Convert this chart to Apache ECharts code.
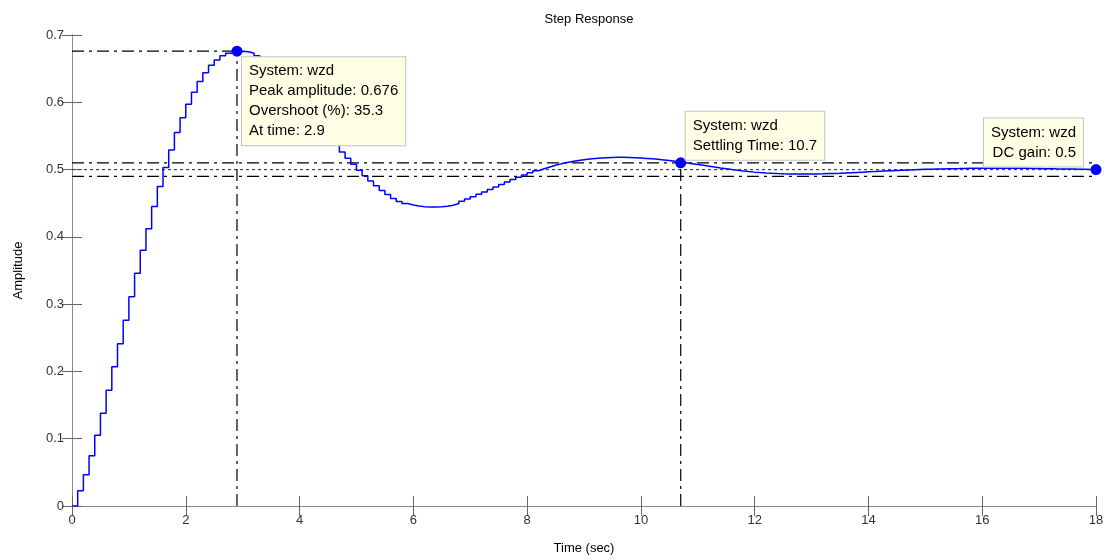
<!DOCTYPE html>
<html lang="en">
<head>
    <meta charset="UTF-8">
    <title>Step Response</title>
    <script src="https://cdn.jsdelivr.net/npm/echarts@6.0.0/dist/echarts.min.js"></script>
    <style>
        html, body { margin: 0; padding: 0; background: #fff; }
        #chart { width: 1111px; height: 560px; }
    </style>
</head>
<body>
    <div id="chart"></div>
<script type="text/javascript">

    // sample time of the discrete step response (sec)
    const sampleTime = 0.1;

    // step response amplitude, one value per sample (t = 0 ... 18 s)
    const amplitude = [
        0, 0.0227, 0.0465, 0.0747, 0.105, 0.138, 0.172, 0.207, 0.241, 0.276,
        0.311, 0.346, 0.380, 0.412, 0.445, 0.475, 0.503, 0.529, 0.555, 0.577,
        0.597, 0.615, 0.631, 0.644, 0.655, 0.663, 0.669, 0.673, 0.675, 0.676,
        0.675, 0.673, 0.669, 0.664, 0.657, 0.650, 0.641, 0.632, 0.622, 0.611,
        0.600, 0.589, 0.578, 0.567, 0.556, 0.545, 0.536, 0.526, 0.517, 0.508,
        0.499, 0.491, 0.483, 0.476, 0.469, 0.463, 0.457, 0.4525, 0.4495, 0.4472,
        0.4458, 0.4449, 0.4445, 0.4445, 0.4448, 0.4455, 0.4470, 0.4495, 0.4530, 0.4563,
        0.4597, 0.4632, 0.4668, 0.4704, 0.4741, 0.4778, 0.4815, 0.4851, 0.4886, 0.4919,
        0.4951, 0.4982, 0.5011, 0.5038, 0.5063, 0.5085, 0.5104, 0.5121, 0.5135, 0.5147,
        0.5157, 0.5165, 0.5171, 0.5176, 0.5179, 0.5182, 0.5182, 0.5180, 0.5176, 0.5171,
        0.5166, 0.5160, 0.5152, 0.5143, 0.5134, 0.5123, 0.5112, 0.5100, 0.5088, 0.5076,
        0.5063, 0.5050, 0.5037, 0.5024, 0.5012, 0.5000, 0.4989, 0.4979, 0.4970, 0.4962,
        0.4955, 0.4949, 0.4944, 0.4940, 0.4937, 0.4935, 0.4934, 0.4933, 0.4933, 0.4934,
        0.4935, 0.4937, 0.4940, 0.4943, 0.4946, 0.4950, 0.4954, 0.4958, 0.4962, 0.4966,
        0.4970, 0.4975, 0.4979, 0.4983, 0.4987, 0.4991, 0.4994, 0.4997, 0.5000, 0.5003,
        0.5006, 0.5008, 0.5010, 0.5012, 0.5014, 0.5015, 0.5017, 0.5018, 0.5019, 0.5020,
        0.5020, 0.5021, 0.5021, 0.5021, 0.5020, 0.5020, 0.5019, 0.5018, 0.5017, 0.5016,
        0.5014, 0.5013, 0.5011, 0.5010, 0.5008, 0.5007, 0.5005, 0.5004, 0.5002, 0.5001,
        0.5000
    ];

    // characteristics shown by the data tips
    const systemName = 'wzd';
    const peakAmp = 0.676;
    const peakTime = 2.9;
    const overshoot = 35.3;
    const settleTime = 10.7;
    const settleAmp = 0.51;
    const dcGain = 0.5;
    const settleBand = 0.02;   // 2% settling band
    const tEnd = 18;

    // axis ticks
    const xTicks = { min: 0, max: 18, step: 2 };
    const yTicks = { min: 0, max: 0.7, step: 0.1 };

    let respData = amplitude.map((v, i) => [+(i * sampleTime).toFixed(1), v]);

    const FONT = 'Liberation Sans, Arial, sans-serif';
    const frameColor = '#8c8c8c';
    const dashDot = [12, 5, 3, 5];

    function refLine(points, type, color) {
        return {
            type: 'line',
            data: points,
            symbol: 'none',
            silent: true,
            z: 1,
            lineStyle: { color: color || '#000', width: 1.2, type: type }
        };
    }

    let chart = echarts.init(document.getElementById('chart'));

    let tipLabel = {
        show: true,
        fontFamily: FONT,
        fontSize: 15,
        lineHeight: 20,
        color: '#000',
        backgroundColor: '#ffffe6',
        borderColor: '#c4c4c4',
        borderWidth: 1,
        padding: [4, 7]
    };

    let option = {
        animation: false,
        backgroundColor: '#fff',
        title: {
            text: 'Step Response',
            left: 584,
            top: 8,
            textAlign: 'center',
            textStyle: { fontFamily: FONT, fontSize: 13, fontWeight: 'normal', color: '#000' }
        },
        grid: { left: 72, top: 35, width: 1024, height: 472 },
        xAxis: [
            {
                type: 'value', min: xTicks.min, max: xTicks.max, interval: xTicks.step,
                name: 'Time (sec)', nameLocation: 'middle', nameGap: 36,
                nameTextStyle: { fontFamily: FONT, fontSize: 13, color: '#000' },
                axisLine: { lineStyle: { color: frameColor } },
                axisTick: { inside: true, length: 10, lineStyle: { color: '#666' } },
                axisLabel: { fontFamily: FONT, fontSize: 13, color: '#333', margin: 8 },
                splitLine: { show: false }
            },
            {
                type: 'value', position: 'top', min: xTicks.min, max: xTicks.max, interval: xTicks.step,
                axisLine: { lineStyle: { color: frameColor } },
                axisTick: { inside: true, length: 10, lineStyle: { color: '#666' } },
                axisLabel: { show: false },
                splitLine: { show: false }
            }
        ],
        yAxis: [
            {
                type: 'value', min: yTicks.min, max: yTicks.max, interval: yTicks.step,
                name: 'Amplitude', nameLocation: 'middle', nameGap: 47, nameRotate: 90,
                nameTextStyle: { fontFamily: FONT, fontSize: 13, color: '#000' },
                axisLine: { lineStyle: { color: frameColor } },
                axisTick: { inside: true, length: 10, lineStyle: { color: '#666' } },
                axisLabel: { fontFamily: FONT, fontSize: 13, color: '#333', margin: 8 },
                splitLine: { show: false }
            },
            {
                type: 'value', position: 'right', min: yTicks.min, max: yTicks.max, interval: yTicks.step,
                axisLine: { lineStyle: { color: frameColor } },
                axisTick: { inside: true, length: 10, lineStyle: { color: '#666' } },
                axisLabel: { show: false },
                splitLine: { show: false }
            }
        ],
        series: [
            // settling band and final value
            refLine([[0, dcGain * (1 + settleBand)], [tEnd, dcGain * (1 + settleBand)]], dashDot),
            refLine([[0, dcGain * (1 - settleBand)], [tEnd, dcGain * (1 - settleBand)]], dashDot),
            refLine([[0, dcGain], [tEnd, dcGain]], [3, 3], '#444'),
            // peak and settling guides
            refLine([[0, peakAmp], [peakTime, peakAmp]], dashDot),
            refLine([[peakTime, 0], [peakTime, peakAmp]], dashDot),
            refLine([[settleTime, 0], [settleTime, settleAmp]], dashDot),
            {
                name: systemName,
                type: 'line',
                step: 'end',
                data: respData,
                showSymbol: false,
                z: 3,
                lineStyle: { color: '#0000ff', width: 1.5 }
            },
            {
                type: 'scatter',
                symbol: 'circle',
                symbolSize: 11,
                zlevel: 1,
                z: 10,
                itemStyle: { color: '#0000ff', opacity: 1 },
                data: [
                    {
                        value: [peakTime, peakAmp],
                        label: Object.assign({}, tipLabel, {
                            position: [10.5, 11.5], align: 'left',
                            formatter: 'System: ' + systemName + '\nPeak amplitude: ' + peakAmp +
                                '\nOvershoot (%): ' + overshoot + '\nAt time: ' + peakTime
                        })
                    },
                    {
                        value: [settleTime, settleAmp],
                        label: Object.assign({}, tipLabel, {
                            position: [10.5, -45.5], align: 'left',
                            formatter: 'System: ' + systemName + '\nSettling Time: ' + settleTime
                        })
                    },
                    {
                        value: [tEnd, dcGain],
                        label: Object.assign({}, tipLabel, {
                            position: [-7.5, -45.5], align: 'right',
                            formatter: 'System: ' + systemName + '\nDC gain: ' + dcGain
                        })
                    }
                ]
            }
        ]
    };

    chart.setOption(option);

</script>
</body>
</html>
